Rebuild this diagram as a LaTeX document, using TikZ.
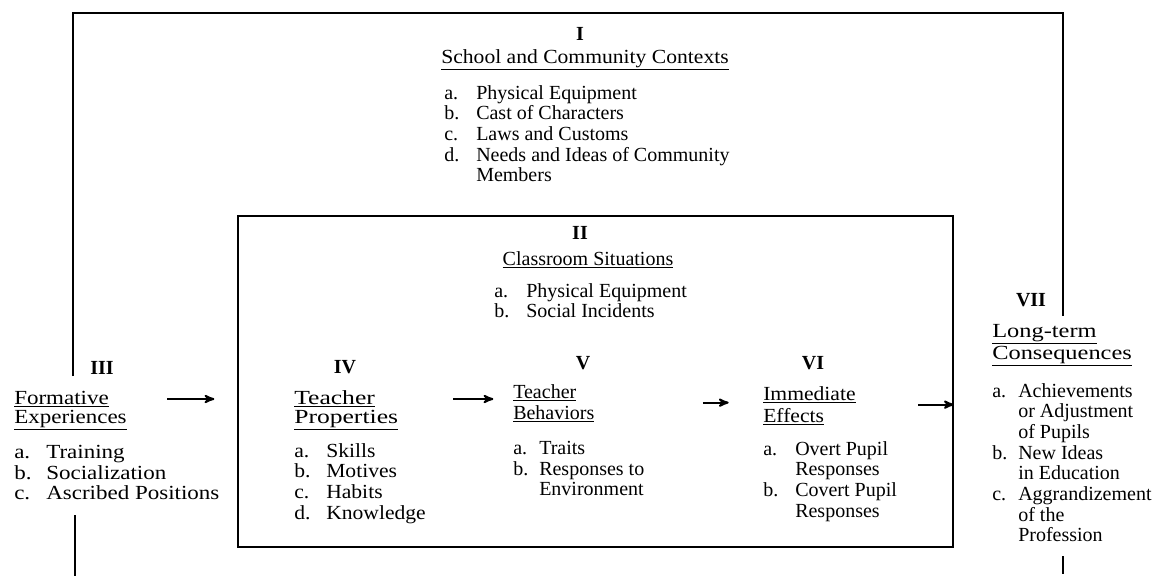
\documentclass[tikz,border=0pt]{standalone}
\usepackage{fontspec}
\setmainfont{Liberation Serif}
\newfontfamily\stretchA[FakeStretch=1.08]{Liberation Serif}
\newfontfamily\stretchB[FakeStretch=1.15]{Liberation Serif}
\newfontfamily\stretchC[FakeStretch=1.22]{Liberation Serif}
\newfontfamily\stretchD[FakeStretch=1.28]{Liberation Serif}
\usetikzlibrary{arrows}
\newcommand{\tagbox}[1]{\makebox[1.6em][l]{#1}}
\newcommand{\tagboxs}[1]{\makebox[1.3em][l]{#1}}

\begin{document}
\begin{tikzpicture}[x=0.75pt,y=0.75pt,yscale=-1,xscale=1,
  txt/.style={inner sep=0.75pt, font=\fontsize{15}{15.5}\selectfont, align=left},
  wideA/.style={txt, font=\fontsize{15}{15.5}\selectfont\stretchA},
  wideB/.style={txt, font=\fontsize{15}{15.5}\selectfont\stretchB},
  wideC/.style={txt, font=\fontsize{15}{15.5}\selectfont\stretchC},
  wideD/.style={txt, font=\fontsize{15}{15.5}\selectfont\stretchD},
  numeral/.style={inner sep=0.75pt, font=\fontsize{15}{15.5}\selectfont\bfseries},
  frame/.style={line width=1.2pt},
  flow/.style={line width=1.5pt, -stealth'}]
\useasboundingbox (0,0) rectangle (1166,576);

%Feedback loop from III up and over to VII
\coordinate (fbL) at (73,376);
\coordinate (fbTop) at (1063,13);
\coordinate (fbR) at (1063,316);
\draw [frame] (fbL) |- (fbTop) -- (fbR) ;
%Return lines at the bottom
\coordinate (retL) at (75,515);
\coordinate (retLend) at (75,576);
\draw [frame] (retL) -- (retLend) ;
\coordinate (retR) at (1063,556);
\coordinate (retRend) at (1063,574);
\draw [frame] (retR) -- (retRend) ;

%Classroom box
\node [draw, frame, inner sep=0pt, minimum width=536.25pt, minimum height=248.25pt] (clsBox) at (595.5,381.5) {};

% Text Node
\draw (580,34) node [anchor=center] [numeral] (nI) {I};
% Text Node
\draw (585,60) node [anchor=center] [wideA] (ctxHead) {\underline{School and Community Contexts}};
% Text Node
\draw (443,84) node [anchor=north west] [txt] (ctxList) {\tagbox{a.}Physical Equipment\\\tagbox{b.}Cast of Characters\\\tagbox{c.}Laws and Customs\\\tagbox{d.}Needs and Ideas of Community\\\tagbox{}Members};

% Text Node
\draw (580,233) node [anchor=center] [numeral] (nII) {II};
% Text Node
\draw (588,260) node [anchor=center] [txt] (clsHead) {\underline{Classroom Situations}};
% Text Node
\draw (493,282) node [anchor=north west] [txt] (clsList) {\tagbox{a.}Physical Equipment\\\tagbox{b.}Social Incidents};

% Text Node
\draw (102,368) node [anchor=center] [numeral] (nIII) {III};
\draw (13,399) node [anchor=west] [wideB] (iiiA) {\underline{Formative}};
\draw (13,420) node [anchor=west] [wideB] (iiiB) {\underline{Experiences}};
\draw (13,444) node [anchor=north west] [wideB] (iiiList) {\tagbox{a.}Training\\\tagbox{b.}Socialization\\\tagbox{c.}Ascribed Positions};

% Text Node
\draw (345,367) node [anchor=center] [numeral] (nIV) {IV};
\draw (293,399) node [anchor=west] [wideD] (ivA) {\underline{Teacher}};
\draw (293,420) node [anchor=west] [wideD] (ivB) {\underline{Properties}};
\draw (293,442) node [anchor=north west] [wideA] (ivList) {\tagbox{a.}Skills\\\tagbox{b.}Motives\\\tagbox{c.}Habits\\\tagbox{d.}Knowledge};

% Text Node
\draw (583,363) node [anchor=center] [numeral] (nV) {V};
\draw (512,393) node [anchor=west] [txt] (vA) {\underline{Teacher}};
\draw (512,414) node [anchor=west] [txt] (vB) {\underline{Behaviors}};
\draw (512,440) node [anchor=north west] [txt] (vList) {\tagboxs{a.}Traits\\\tagboxs{b.}Responses to\\\tagboxs{}Environment};

% Text Node
\draw (813,363) node [anchor=center] [numeral] (nVI) {VI};
\draw (762,395) node [anchor=west] [wideA] (viA) {\underline{Immediate}};
\draw (762,417) node [anchor=west] [wideA] (viB) {\underline{Effects}};
\draw (762,440) node [anchor=north west] [txt] (viList) {\tagbox{a.}Overt Pupil\\\tagbox{}Responses\\\tagbox{b.}Covert Pupil\\\tagbox{}Responses};

% Text Node
\draw (1031,300) node [anchor=center] [numeral] (nVII) {VII};
\draw (991,334) node [anchor=west] [wideC] (viiA) {\underline{Long-term}};
\draw (991,356) node [anchor=west] [wideC] (viiB) {\underline{Consequences}};
\draw (991,382) node [anchor=north west] [txt] (viiList) {\tagboxs{a.}Achievements\\\tagboxs{}or Adjustment\\\tagboxs{}of Pupils\\\tagboxs{b.}New Ideas\\\tagboxs{}in Education\\\tagboxs{c.}Aggrandizement\\\tagboxs{}of the\\\tagboxs{}Profession};

%Arrows
\draw [flow, shorten <=43pt, shorten >=59pt] (iiiA.east) -- (iiiA.east -| ivA.west) ;
\draw [flow, shorten <=58pt, shorten >=14pt] (ivA.east) -- (ivA.east -| vA.west) ;
\draw [flow, shorten <=94pt, shorten >=25pt] (vA.south east) -- (vA.south east -| viA.west) ;
\draw [flow, shorten <=46pt] (viA.south east) -- (viA.south east -| clsBox.east) ;

\end{tikzpicture}
\end{document}
